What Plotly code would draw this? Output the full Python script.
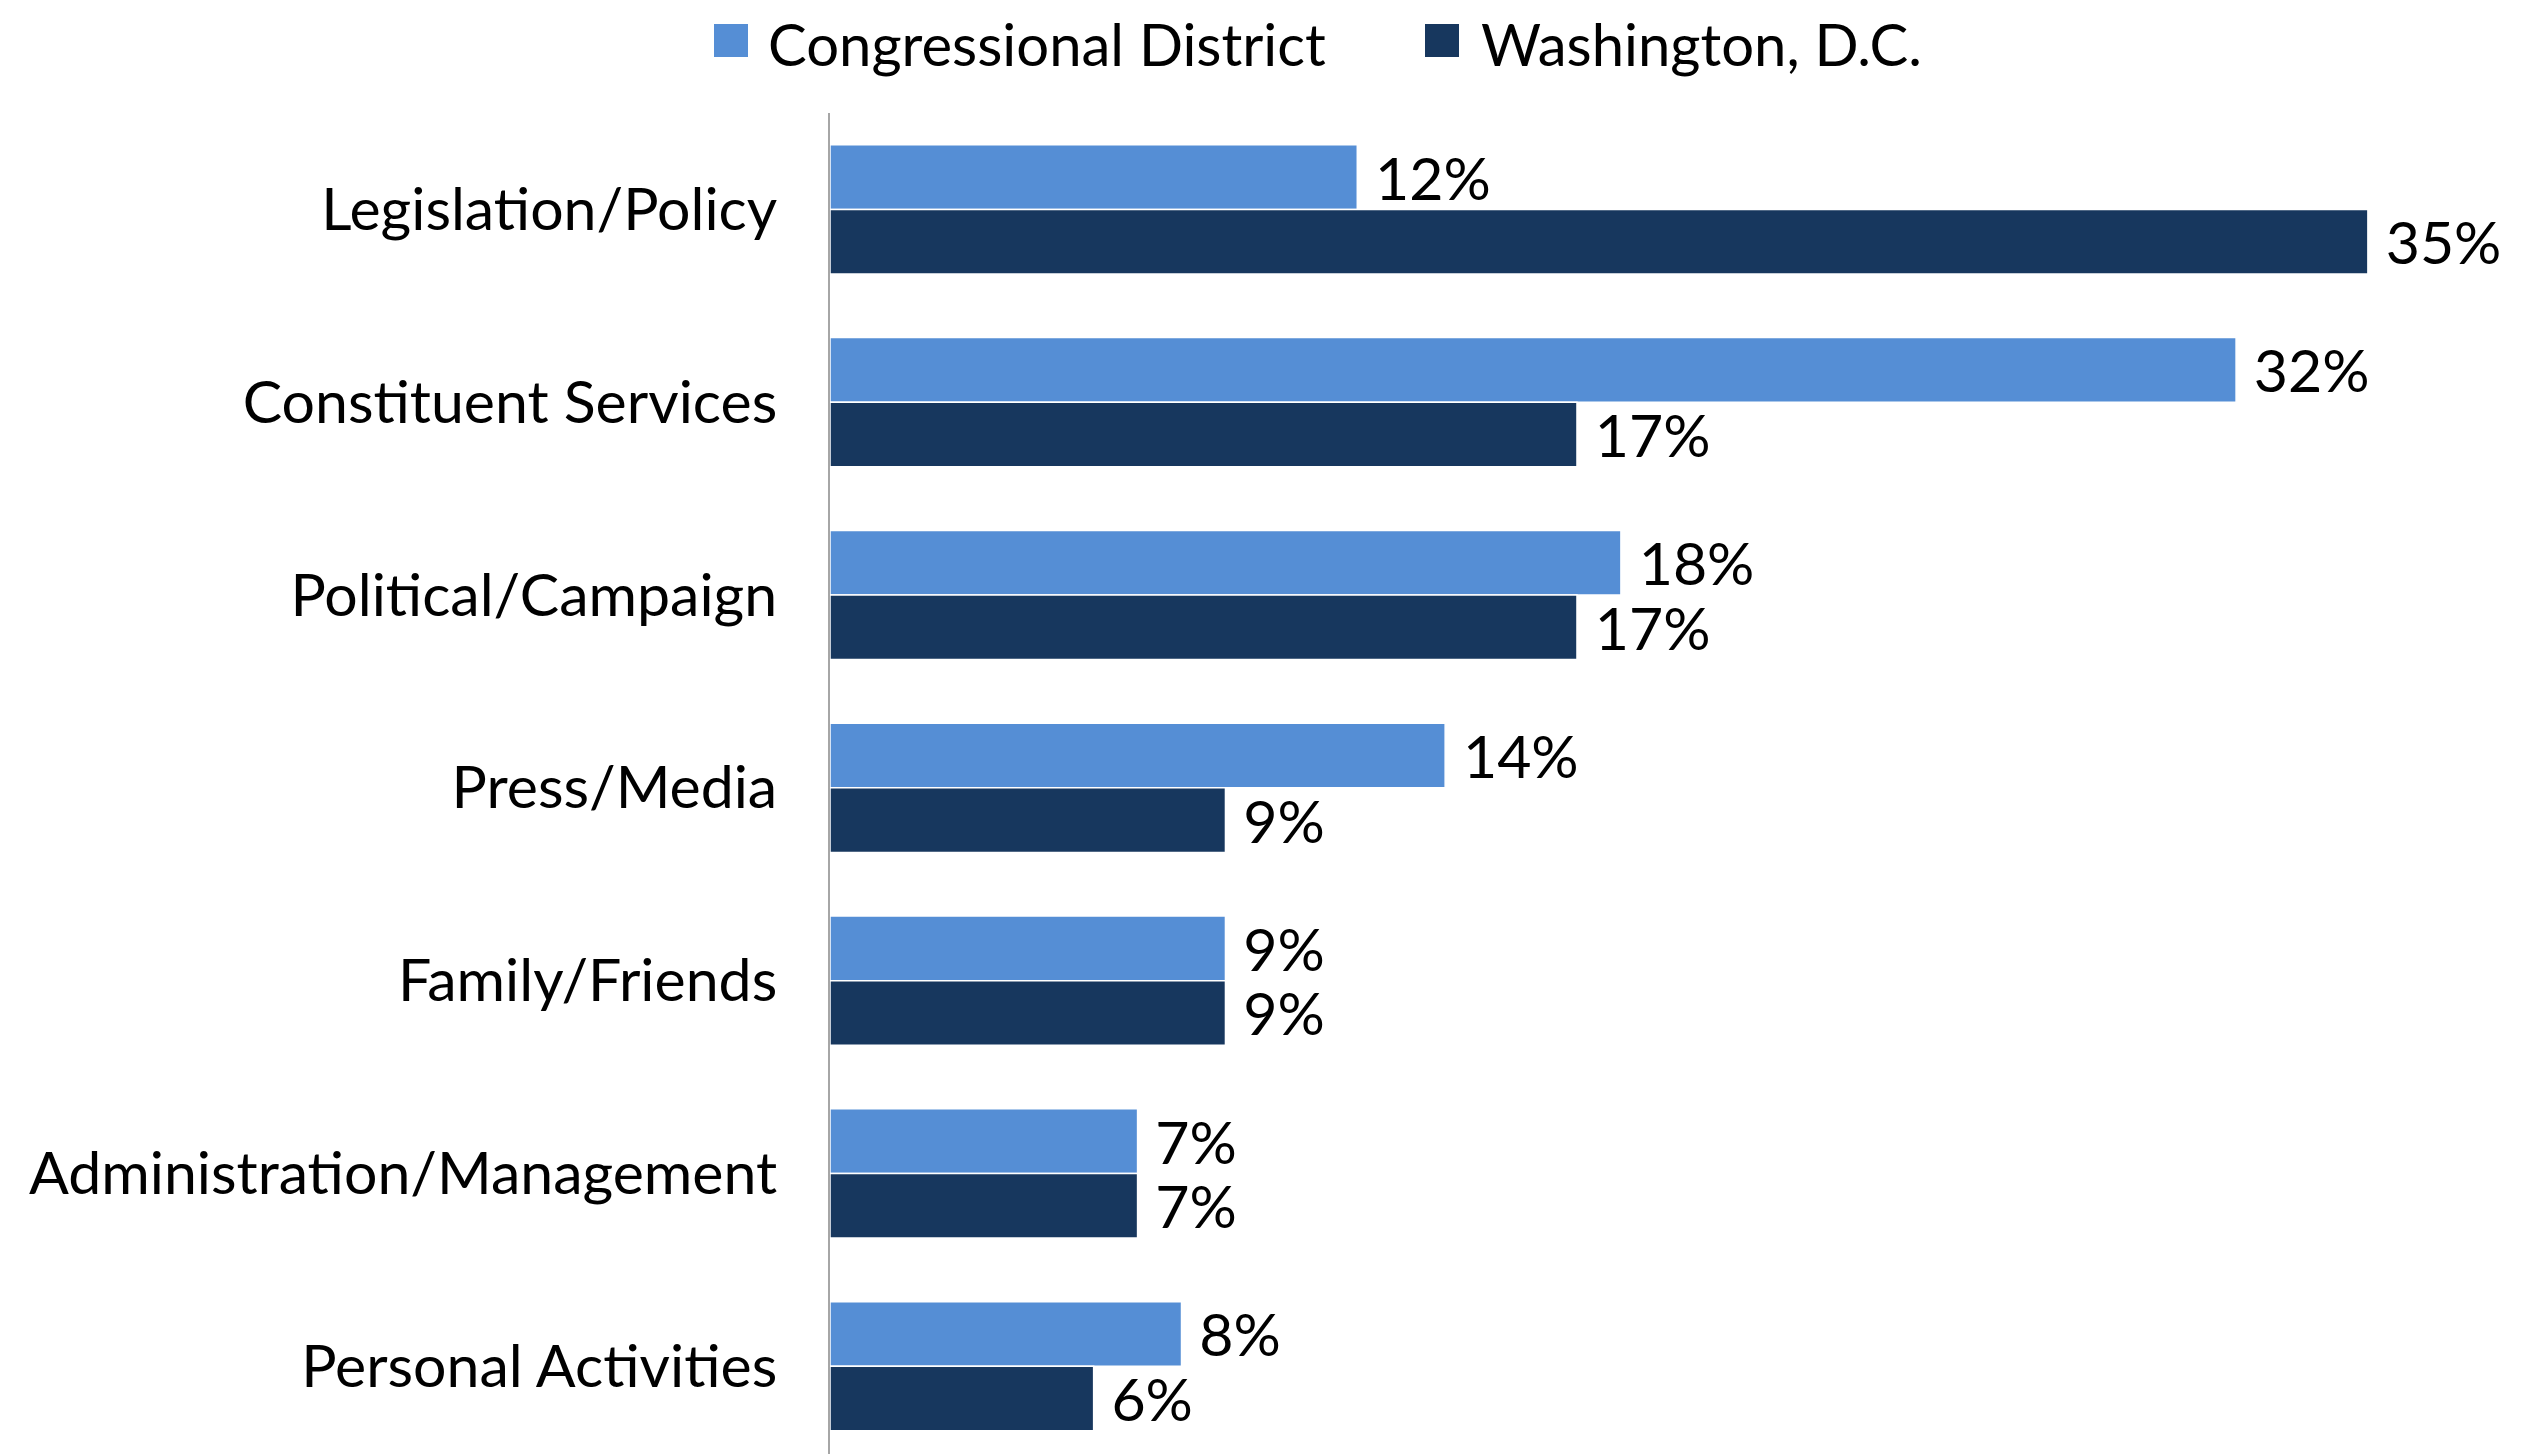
import plotly.graph_objects as go

categories = ["Legislation/Policy", "Constituent Services", "Political/Campaign",
              "Press/Media", "Family/Friends", "Administration/Management",
              "Personal Activities"]
district = [12, 32, 18, 14, 9, 7, 8]
washington = [35, 17, 17, 9, 9, 7, 6]
series_names = ["Congressional District", "Washington, D.C."]
colors = ["#558ed5", "#17375e"]

OFF = 8  # page body margin
W, H = 2526 - OFF, 1454 - OFF
L, R, T, B = 830 - OFF, 2500 - OFF, 113 - OFF, 1454 - OFF
FONT = "Lato"
FS = 59

def px(x):
    return (x - OFF - L) / (R - L)

def py(y):
    return (B - (y - OFF)) / (B - T)

fig = go.Figure()
for name, vals, col in zip(series_names, [district, washington], colors):
    fig.add_trace(go.Bar(
        name=name, y=categories, x=vals, orientation="h",
        marker=dict(color=col, line=dict(color="#ffffff", width=1.5)),
        text=[f"\u2005{v}%" for v in vals], textposition="outside",
        textfont=dict(family=FONT, size=FS, color="#000000"),
        cliponaxis=False, constraintext="none", showlegend=False,
    ))

# manual legend (large square swatches)
legend_items = [(714, 766), (1425, 1479)]
for (sx, tx), name, col in zip(legend_items, series_names, colors):
    fig.add_shape(type="rect", xref="paper", yref="paper",
                  x0=px(sx), x1=px(sx + 34), y0=py(24), y1=py(57),
                  fillcolor=col, line=dict(width=0))
    fig.add_annotation(xref="paper", yref="paper", x=px(tx), y=py(44),
                       xanchor="left", yanchor="middle", text=name, showarrow=False,
                       font=dict(family=FONT, size=58, color="#000000"))

unit = 43.94
fig.update_layout(
    width=W, height=H,
    margin=dict(l=L, r=W - R, t=T, b=H - B, pad=0),
    paper_bgcolor="white", plot_bgcolor="white",
    barmode="group", bargap=0.33, bargroupgap=0,
    font=dict(family=FONT, size=FS, color="#000000"),
    xaxis=dict(range=[0, (R - L) / unit], visible=False),
    yaxis=dict(range=[6.455, -0.5], showline=True, linecolor="#a6a6a6", linewidth=2,
               showgrid=False, ticks="", ticklabelstandoff=39,
               tickfont=dict(family=FONT, size=FS, color="#000000")),
)

fig.write_html("out.html")
